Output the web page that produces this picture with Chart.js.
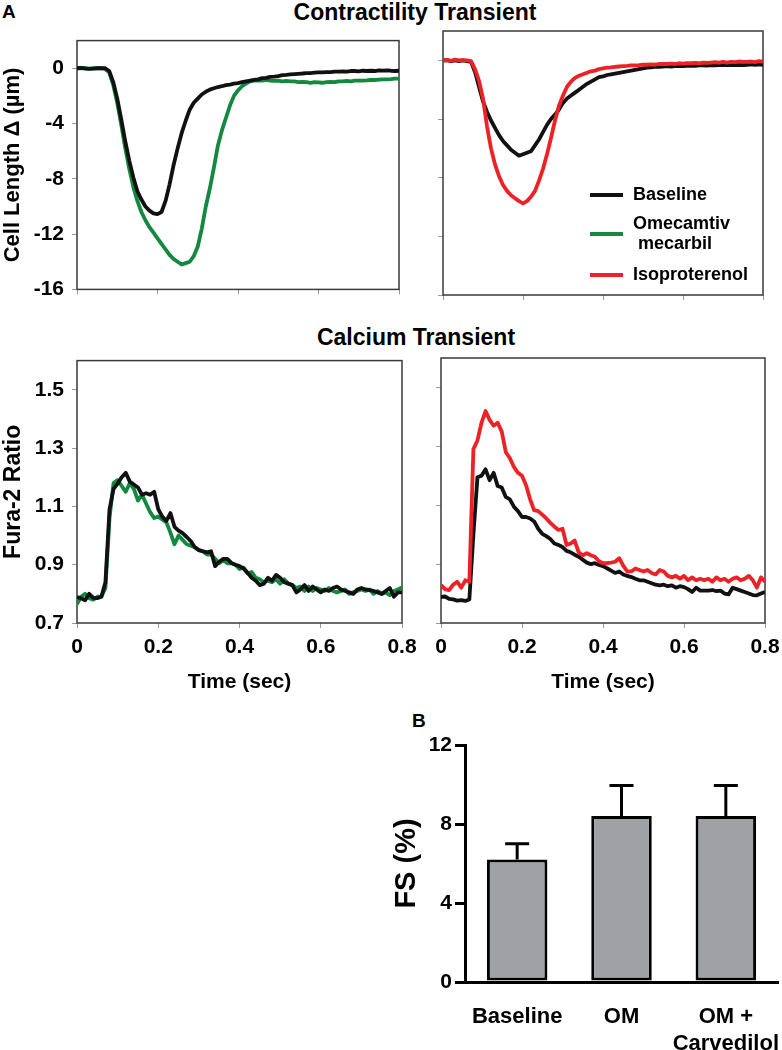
<!DOCTYPE html>
<html>
<head>
<meta charset="utf-8">
<script src="https://cdn.jsdelivr.net/npm/chart.js@4/dist/chart.umd.min.js"></script>
<style>
  body { margin: 0; background: #fff; }
  #fig { position: relative; width: 782px; height: 1050px; overflow: hidden; background: #fff;
         font-family: "Liberation Sans", Arial, sans-serif; font-weight: bold; color: #000; }
  .box { position: absolute; }
  .lbl { position: absolute; white-space: nowrap; line-height: 1; }
</style>
</head>
<body>
<div id="fig">
  <div class="lbl" style="left:2px;top:2px;font-size:19px">A</div>
  <div class="lbl" style="left:115px;top:0.5px;width:600px;text-align:center;font-size:23px">Contractility Transient</div>
  <div class="lbl" style="left:116px;top:325.5px;width:600px;text-align:center;font-size:23px">Calcium Transient</div>
  <div class="lbl" style="left:412px;top:710.5px;font-size:19px">B</div>

  <div class="box" style="left:0;top:20px;width:410px;height:290px"><canvas id="contractOM"></canvas></div>
  <div class="box" style="left:405px;top:20px;width:400px;height:290px"><canvas id="contractISO"></canvas></div>
  <div class="box" style="left:0;top:340px;width:430px;height:356px"><canvas id="calciumOM"></canvas></div>
  <div class="box" style="left:405px;top:340px;width:400px;height:356px"><canvas id="calciumISO"></canvas></div>
  <div class="box" style="left:360px;top:700px;width:450px;height:350px"><canvas id="fsBars"></canvas></div>
</div>

<script>
// sample times (sec), shared by all traces
const timeSec = [0, 0.01, 0.02, 0.03, 0.04, 0.05, 0.06, 0.07, 0.08, 0.09,
  0.1, 0.11, 0.12, 0.13, 0.14, 0.15, 0.16, 0.17, 0.18, 0.19,
  0.2, 0.21, 0.22, 0.23, 0.24, 0.25, 0.26, 0.27, 0.28, 0.29,
  0.3, 0.31, 0.32, 0.33, 0.34, 0.35, 0.36, 0.37, 0.38, 0.39,
  0.4, 0.41, 0.42, 0.43, 0.44, 0.45, 0.46, 0.47, 0.48, 0.49,
  0.5, 0.51, 0.52, 0.53, 0.54, 0.55, 0.56, 0.57, 0.58, 0.59,
  0.6, 0.61, 0.62, 0.63, 0.64, 0.65, 0.66, 0.67, 0.68, 0.69,
  0.7, 0.71, 0.72, 0.73, 0.74, 0.75, 0.76, 0.77, 0.78, 0.79, 0.8];

const timeTicks = [0, 0.2, 0.4, 0.6, 0.8];
const lengthTicks = [0, -4, -8, -12, -16];
const ratioTicks = [1.5, 1.3, 1.1, 0.9, 0.7];

// cell length change (um), left panel
const lengthBaseOM = [0, 0.02, -0.02, -0.05, -0.03, 0, 0, 0, -0.2, -1.0,
  -2.2, -3.7, -5.3, -6.7, -7.9, -8.9, -9.5, -10.0, -10.3, -10.5,
  -10.55, -10.4, -9.6, -8.4, -7.0, -5.8, -4.7, -3.8, -3.0, -2.5,
  -2.2, -1.9, -1.7, -1.55, -1.45, -1.36, -1.3, -1.22, -1.18, -1.12,
  -1.08, -1.0, -0.95, -0.9, -0.85, -0.8, -0.72, -0.7, -0.62, -0.6,
  -0.57, -0.5, -0.48, -0.45, -0.42, -0.4, -0.38, -0.35, -0.35, -0.32,
  -0.3, -0.3, -0.28, -0.28, -0.25, -0.25, -0.22, -0.25, -0.2, -0.2,
  -0.22, -0.18, -0.2, -0.18, -0.2, -0.15, -0.18, -0.15, -0.18, -0.2, -0.18];
const lengthOM = [0, 0, 0.02, -0.03, 0, 0, 0, -0.05, -0.3, -1.2,
  -2.5, -4.1, -5.8, -7.3, -8.6, -9.6, -10.4, -11.0, -11.5, -11.9,
  -12.3, -12.7, -13.1, -13.5, -13.8, -14.0, -14.2, -14.1, -14.0, -13.6,
  -12.9, -11.6, -10.0, -8.7, -7.2, -5.6, -4.5, -3.6, -2.7, -2.0,
  -1.6, -1.3, -1.1, -0.95, -0.9, -0.88, -0.9, -0.85, -0.9, -0.92,
  -0.9, -0.95, -0.92, -0.95, -0.95, -1.0, -0.98, -1.0, -1.05, -1.0,
  -1.02, -1.05, -1.0, -0.98, -1.0, -0.95, -0.95, -0.92, -0.95, -0.9,
  -0.9, -0.9, -0.88, -0.85, -0.85, -0.82, -0.8, -0.8, -0.78, -0.75, -0.75];

// cell length change (um), right panel
const lengthBaseISO = [0, 0.02, -0.05, 0, -0.05, 0, -0.05, -0.1, -0.8, -1.8,
  -2.8, -3.5, -4.1, -4.6, -5.1, -5.5, -5.8, -6.1, -6.3, -6.5,
  -6.4, -6.3, -6.2, -5.8, -5.4, -4.9, -4.4, -4.0, -3.7, -3.35,
  -2.9, -2.6, -2.4, -2.2, -2.0, -1.8, -1.6, -1.45, -1.3, -1.15,
  -1.1, -1.0, -0.95, -0.9, -0.85, -0.8, -0.75, -0.7, -0.65, -0.6,
  -0.55, -0.5, -0.48, -0.45, -0.45, -0.42, -0.4, -0.42, -0.4, -0.38,
  -0.4, -0.38, -0.36, -0.38, -0.35, -0.35, -0.36, -0.33, -0.35, -0.32,
  -0.33, -0.32, -0.3, -0.32, -0.3, -0.32, -0.3, -0.28, -0.3, -0.28, -0.3];
const lengthISO = [0, 0.02, -0.03, 0.05, 0, 0.02, 0, -0.05, -0.6, -1.4,
  -2.6, -4.5, -6.0, -7.1, -7.9, -8.5, -8.9, -9.2, -9.4, -9.6,
  -9.75, -9.6, -9.3, -8.9, -8.2, -7.4, -6.4, -5.3, -4.1, -3.1,
  -2.4, -1.8, -1.45, -1.2, -1.05, -0.95, -0.85, -0.75, -0.7, -0.6,
  -0.55, -0.5, -0.48, -0.45, -0.42, -0.4, -0.38, -0.35, -0.35, -0.33,
  -0.3, -0.3, -0.28, -0.3, -0.25, -0.25, -0.25, -0.22, -0.25, -0.2,
  -0.22, -0.2, -0.2, -0.18, -0.2, -0.15, -0.18, -0.15, -0.12, -0.15,
  -0.1, -0.15, -0.1, -0.12, -0.08, -0.1, -0.1, -0.08, -0.12, -0.05, -0.1];

// Fura-2 ratio, left panel
const ratioBaseOM = [0.789, 0.785, 0.778, 0.8, 0.786, 0.785, 0.79, 0.84, 1.09, 1.16,
  1.178, 1.2, 1.215, 1.185, 1.175, 1.165, 1.14, 1.145, 1.14, 1.15,
  1.09, 1.065, 1.05, 1.077, 1.03, 1.017, 1.008, 0.995, 0.981, 0.96,
  0.95, 0.946, 0.942, 0.946, 0.895, 0.91, 0.92, 0.92, 0.906, 0.9,
  0.895, 0.887, 0.872, 0.855, 0.845, 0.83, 0.835, 0.855, 0.845, 0.865,
  0.855, 0.84, 0.835, 0.83, 0.805, 0.815, 0.83, 0.81, 0.825, 0.815,
  0.805, 0.815, 0.81, 0.82, 0.825, 0.815, 0.81, 0.805, 0.8, 0.815,
  0.82, 0.815, 0.813, 0.81, 0.805, 0.8, 0.81, 0.82, 0.79, 0.805, 0.805];
const ratioOM = [0.765, 0.79, 0.8, 0.785, 0.78, 0.79, 0.79, 0.82, 1.06, 1.18,
  1.19, 1.17, 1.15, 1.18, 1.16, 1.12, 1.14, 1.11, 1.08, 1.06,
  1.065, 1.055, 1.045, 1.01, 0.97, 1.0, 0.985, 0.97, 0.965, 0.96,
  0.95, 0.945, 0.935, 0.935, 0.92, 0.905, 0.915, 0.905, 0.905, 0.9,
  0.885, 0.89, 0.87, 0.875, 0.855, 0.85, 0.84, 0.845, 0.84, 0.85,
  0.835, 0.85, 0.835, 0.83, 0.82, 0.825, 0.81, 0.825, 0.81, 0.82,
  0.815, 0.81, 0.82, 0.81, 0.805, 0.81, 0.815, 0.8, 0.805, 0.81,
  0.815, 0.81, 0.815, 0.8, 0.81, 0.8, 0.805, 0.795, 0.81, 0.815, 0.822];

// Fura-2 ratio, right panel
const ratioBaseISO = [0.789, 0.79, 0.782, 0.78, 0.776, 0.778, 0.775, 0.78, 1.0, 1.195,
  1.2, 1.222, 1.185, 1.21, 1.165, 1.16, 1.128, 1.12, 1.095, 1.08,
  1.06, 1.06, 1.055, 1.045, 1.02, 1.003, 0.995, 0.985, 0.97, 0.965,
  0.958, 0.945, 0.94, 0.932, 0.925, 0.915, 0.905, 0.9, 0.903, 0.897,
  0.893, 0.886, 0.878, 0.87, 0.875, 0.865, 0.86, 0.856, 0.85, 0.845,
  0.845, 0.84, 0.835, 0.83, 0.828, 0.83, 0.825, 0.828, 0.82, 0.825,
  0.822, 0.815, 0.805, 0.82, 0.81, 0.81, 0.81, 0.812, 0.808, 0.81,
  0.8, 0.797, 0.82, 0.815, 0.81, 0.805, 0.8, 0.795, 0.794, 0.8, 0.805];
const ratioISO = [0.829, 0.815, 0.812, 0.83, 0.84, 0.82, 0.845, 0.84, 1.29, 1.32,
  1.38, 1.42, 1.39, 1.37, 1.38, 1.35, 1.28, 1.26, 1.23, 1.21,
  1.2, 1.168, 1.12, 1.083, 1.08, 1.068, 1.055, 1.04, 1.027, 1.016,
  1.02, 0.965, 0.97, 0.98, 0.94, 0.93, 0.937, 0.93, 0.925, 0.91,
  0.903, 0.903, 0.905, 0.908, 0.92, 0.895, 0.875, 0.875, 0.885, 0.88,
  0.875, 0.88, 0.87, 0.865, 0.88, 0.875, 0.86, 0.855, 0.86, 0.85,
  0.86, 0.845, 0.855, 0.845, 0.85, 0.845, 0.85, 0.84, 0.855, 0.845,
  0.85, 0.84, 0.85, 0.855, 0.845, 0.85, 0.86, 0.845, 0.82, 0.855, 0.84];

// panel B: fractional shortening
const fsCategories = ['Baseline', 'OM', ['OM +', 'Carvedilol']];
const fsMean = [6.2, 8.4, 8.4];
const fsSem = [0.8, 1.55, 1.55];
const fsTicks = [0, 4, 8, 12];

const legendLabels = [['Baseline'], ['Omecamtiv', ' mecarbil'], ['Isoproterenol']];

const BLACK = '#111111';
const GREEN = '#13893f';
const RED = '#ec2227';
const legendColors = [BLACK, GREEN, RED];

const FONT = '"Liberation Sans", Arial, sans-serif';
Chart.defaults.font.family = FONT;
Chart.defaults.font.weight = 'bold';
Chart.defaults.color = '#000';

const framePlugin = {
  id: 'frame',
  beforeDatasetsDraw(chart) {
    const a = chart.chartArea, ctx = chart.ctx;
    ctx.save();
    ctx.strokeStyle = '#3a3a3a';
    ctx.lineWidth = 1.5;
    ctx.strokeRect(a.left, a.top, a.right - a.left, a.bottom - a.top);
    ctx.restore();
  }
};

const legendPlugin = {
  id: 'traceLegend',
  afterDraw(chart) {
    const a = chart.chartArea, ctx = chart.ctx;
    const rowY = [164, 203, 244];
    ctx.save();
    ctx.font = 'bold 18px ' + FONT;
    ctx.textBaseline = 'middle';
    ctx.fillStyle = '#000';
    legendLabels.forEach((lines, i) => {
      const y = a.top + rowY[i];
      ctx.strokeStyle = legendColors[i];
      ctx.lineWidth = 4;
      ctx.beginPath();
      ctx.moveTo(a.left + 147, y);
      ctx.lineTo(a.left + 180, y);
      ctx.stroke();
      lines.forEach((t, k) => ctx.fillText(t, a.left + 190, y + (k - (lines.length - 1) / 2) * 20));
    });
    ctx.restore();
  }
};

const errorBarPlugin = {
  id: 'errorBars',
  afterDatasetsDraw(chart) {
    const ctx = chart.ctx, y = chart.scales.y;
    ctx.save();
    ctx.strokeStyle = '#000';
    ctx.lineWidth = 3;
    chart.getDatasetMeta(0).data.forEach((bar, i) => {
      const top = y.getPixelForValue(fsMean[i] + fsSem[i]);
      ctx.beginPath();
      ctx.moveTo(bar.x, bar.y);
      ctx.lineTo(bar.x, top);
      ctx.moveTo(bar.x - 12, top);
      ctx.lineTo(bar.x + 12, top);
      ctx.stroke();
    });
    ctx.restore();
  }
};

function tracePanel(id, series, cfg) {
  return new Chart(document.getElementById(id), {
    type: 'line',
    data: {
      datasets: series.map(s => ({
        data: timeSec.map((t, i) => ({ x: t, y: s.values[i] })),
        borderColor: s.color,
        borderWidth: 3.8,
        pointRadius: 0,
        tension: 0,
        borderJoinStyle: 'round'
      }))
    },
    options: {
      responsive: true,
      maintainAspectRatio: false,
      animation: false,
      layout: { padding: { top: cfg.padTop, right: cfg.padRight, left: 0, bottom: 0 } },
      plugins: { legend: { display: false }, tooltip: { enabled: false } },
      scales: {
        x: {
          type: 'linear', min: 0, max: 0.8,
          afterBuildTicks: s => { s.ticks = timeTicks.map(v => ({ value: v })); },
          afterFit: s => { s.height = cfg.xHeight; },
          border: { display: false },
          grid: { drawOnChartArea: false, tickLength: 5, color: '#9a9a9a', lineWidth: 1 },
          ticks: { display: cfg.xLabels, font: { size: 21 }, padding: 7, maxRotation: 0, callback: v => String(v) },
          title: { display: cfg.xLabels, text: 'Time (sec)', font: { size: 21 }, padding: { top: 0, bottom: 1 } }
        },
        y: {
          type: 'linear', min: cfg.yMin, max: cfg.yMax,
          afterBuildTicks: s => { s.ticks = cfg.yTicks.map(v => ({ value: v })); },
          afterFit: s => { s.width = cfg.yWidth; },
          border: { display: false },
          grid: { drawOnChartArea: false, tickLength: 5, color: '#9a9a9a', lineWidth: 1 },
          ticks: { display: cfg.yLabels, font: { size: 21 }, padding: 8, callback: v => String(v) },
          title: { display: !!cfg.yTitle, text: cfg.yTitle, font: { size: cfg.yTitleSize || 21 }, padding: { top: 0, bottom: 0 } }
        }
      }
    },
    plugins: [framePlugin].concat(cfg.extra || [])
  });
}

tracePanel('contractOM',
  [{ values: lengthBaseOM, color: BLACK }, { values: lengthOM, color: GREEN }],
  { padTop: 11, padRight: 11, xHeight: 15, yWidth: 77, yMin: -16, yMax: 2, yTicks: lengthTicks,
    xLabels: false, yLabels: true, yTitle: 'Cell Length \u0394 (\u00b5m)', yTitleSize: 22 });

tracePanel('contractISO',
  [{ values: lengthISO, color: RED }, { values: lengthBaseISO, color: BLACK }],
  { padTop: 11, padRight: 42, xHeight: 15, yWidth: 38, yMin: -16, yMax: 2, yTicks: lengthTicks,
    xLabels: false, yLabels: false, yTitle: '', extra: [legendPlugin] });

tracePanel('calciumOM',
  [{ values: ratioBaseOM, color: BLACK }, { values: ratioOM, color: GREEN }],
  { padTop: 18, padRight: 28, xHeight: 73, yWidth: 77, yMin: 0.7, yMax: 1.6, yTicks: ratioTicks,
    xLabels: true, yLabels: true, yTitle: 'Fura-2 Ratio', yTitleSize: 23 });

tracePanel('calciumISO',
  [{ values: ratioISO, color: RED }, { values: ratioBaseISO, color: BLACK }],
  { padTop: 18, padRight: 40, xHeight: 73, yWidth: 36, yMin: 0.7, yMax: 1.6, yTicks: ratioTicks,
    xLabels: true, yLabels: false, yTitle: '' });

new Chart(document.getElementById('fsBars'), {
  type: 'bar',
  data: {
    labels: fsCategories,
    datasets: [{
      data: fsMean,
      backgroundColor: '#a0a1a5',
      borderColor: '#000',
      borderWidth: 3,
      borderSkipped: false,
      barPercentage: 0.58,
      categoryPercentage: 1
    }]
  },
  options: {
    responsive: true,
    maintainAspectRatio: false,
    animation: false,
    layout: { padding: { top: 45, right: 32, left: 0, bottom: 0 } },
    plugins: { legend: { display: false }, tooltip: { enabled: false } },
    scales: {
      x: {
        afterFit: s => { s.height = 68; },
        border: { display: true, color: '#000', width: 3 },
        grid: { display: false },
        ticks: { font: { size: 22 }, padding: 14, maxRotation: 0, autoSkip: false }
      },
      y: {
        min: 0, max: 12,
        afterBuildTicks: s => { s.ticks = fsTicks.map(v => ({ value: v })); },
        afterFit: s => { s.width = 105; },
        border: { display: true, color: '#000', width: 3 },
        grid: { drawOnChartArea: false, tickLength: 10, color: '#000', lineWidth: 3 },
        ticks: { font: { size: 21 }, padding: 3, callback: v => String(v) },
        title: { display: true, text: 'FS (%)', font: { size: 29 }, padding: { top: 30, bottom: 0 } }
      }
    }
  },
  plugins: [errorBarPlugin]
});
</script>
</body>
</html>
